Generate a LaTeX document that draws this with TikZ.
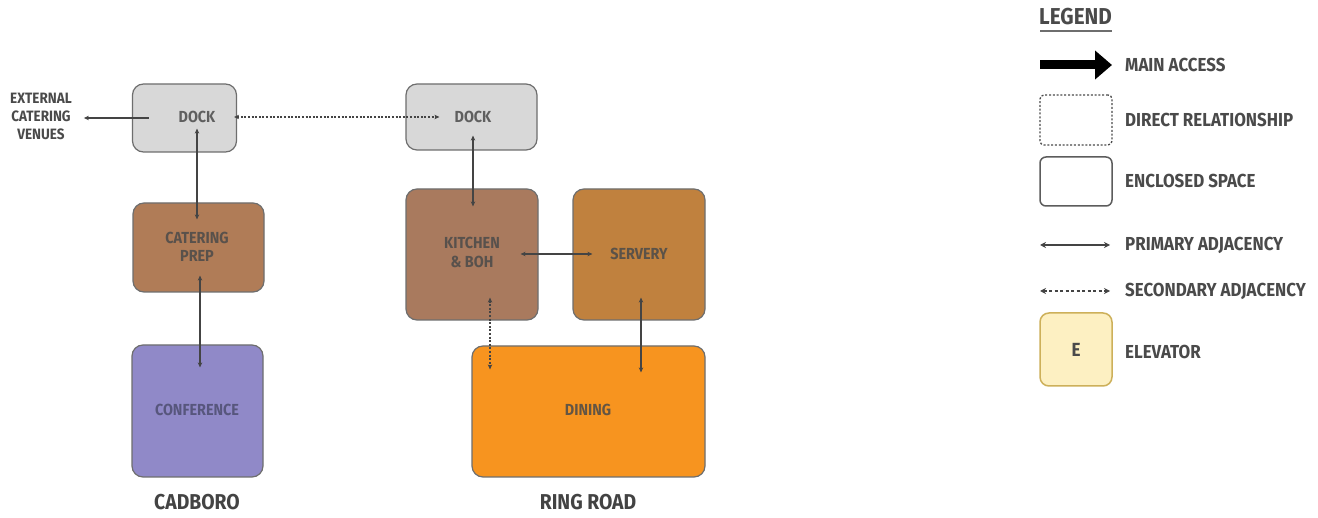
\documentclass[tikz,border=0pt]{standalone}
\usepackage{fontspec}
\setmainfont{Fira Sans}[FakeStretch=0.9]
\usetikzlibrary{arrows.meta,calc}
\definecolor{dockfill}{HTML}{D8D8D8}
\definecolor{prepfill}{HTML}{B07C57}
\definecolor{kitchfill}{HTML}{A97A5E}
\definecolor{servfill}{HTML}{C0813E}
\definecolor{dinefill}{HTML}{F7941F}
\definecolor{conffill}{HTML}{9089C8}
\definecolor{elevfill}{HTML}{FDF0C2}
\definecolor{elevline}{HTML}{CDB05A}
\definecolor{edge}{HTML}{6E6E6E}
\definecolor{ink}{HTML}{4A4A4A}
\definecolor{confink}{HTML}{4E4E70}
\definecolor{link}{HTML}{444444}
\tikzset{
  room/.style={draw=edge, line width=1.2pt, rounded corners=11pt, inner sep=0pt},
  roomtext/.style={font=\bfseries\fontsize{16}{18.5}\selectfont, align=center, text=ink, text opacity=0.85, inner sep=0pt},
  tag/.style={font=\bfseries\fontsize{18.8}{21}\selectfont, text=ink, anchor=west, inner sep=0pt},
  site/.style={font=\bfseries\fontsize{21.5}{24}\selectfont, text=ink!90!black, inner sep=0pt},
  primary/.style={draw=link, line width=1.4pt, {Stealth[length=5pt,width=4.5pt]}-{Stealth[length=5pt,width=4.5pt]}},
  secondary/.style={primary, dash pattern=on 2pt off 1.6pt},
  keyprimary/.style={draw=link, line width=2pt, {Stealth[length=6pt,width=6pt]}-{Stealth[length=6pt,width=6pt]}},
  keysecondary/.style={keyprimary, line width=1.6pt, dash pattern=on 3pt off 2.5pt},
}
\begin{document}
\begin{tikzpicture}[x=1pt,y=-1pt]
\useasboundingbox (0,0) rectangle (1318,518);
\fill[white] (0,0) rectangle (1318,518);

% rooms
\node[room, fill=dockfill, minimum width=104pt, minimum height=68pt] (ldock) at (184.5,118) {};
\node[room, fill=dockfill, minimum width=131pt, minimum height=66pt] (rdock) at (471.5,117) {};
\node[room, fill=prepfill, minimum width=131pt, minimum height=89pt] (prep) at (198.5,247.5) {};
\node[room, fill=conffill, minimum width=131pt, minimum height=132pt] (conf) at (197.5,411) {};
\node[room, fill=kitchfill, minimum width=132pt, minimum height=131pt] (kitch) at (472,254.5) {};
\node[room, fill=servfill, minimum width=132pt, minimum height=131pt] (serv) at (639,254.5) {};
\node[room, fill=dinefill, minimum width=233pt, minimum height=131pt] (dine) at (588.5,411.5) {};

% room labels
\node[roomtext] (ldocklbl) at (197,117) {DOCK};
\node[roomtext] (rdocklbl) at (473,117) {DOCK};
\node[roomtext] (preplbl) at (197,247) {CATERING\\PREP};
\node[roomtext, text=confink] (conflbl) at (197,410) {CONFERENCE};
\node[roomtext] (kitchlbl) at (472,252.5) {KITCHEN\\\& BOH};
\node[roomtext] (servlbl) at (639,254) {SERVERY};
\node[roomtext] (dinelbl) at (588,410) {DINING};

\node[font=\bfseries\fontsize{15}{18}\selectfont, text=ink, align=center, inner sep=0pt] (ext) at (41,116.5) {EXTERNAL\\CATERING\\VENUES};

% site names
\node[site] (cadboro) at (197,502) {CADBORO};
\node[site] (ringroad) at (588,502) {RING ROAD};

% adjacencies
\draw[draw=link, line width=1.4pt, -{Stealth[length=5pt,width=4.5pt]}] ($(ldock.west)+(17,0)$) -- ($(ldock.west)+(-48,0)$);
\draw[secondary] ($(ldock.east)+(-3,-1)$) -- ($(rdock.west)+(34,0)$);
\draw[primary] ($(ldock.south)+(12.5,-24)$) -- ($(prep.north)+(-1.5,17)$);
\draw[primary] ($(prep.south)+(1.5,-17)$) -- ($(conf.north)+(2.5,23)$);
\draw[primary] ($(rdock.south)+(1.5,-15)$) -- ($(kitch.north)+(1,18)$);
\draw[primary] ($(kitch.east)+(-18,-0.5)$) -- ($(serv.west)+(20,-0.5)$);
\draw[primary] ($(serv.south)+(2,-23)$) -- ($(dine.north)+(52.5,27)$);
\draw[secondary] ($(kitch.south)+(18,-23)$) -- ($(dine.north)+(-98.5,24)$);

% legend
\node[font=\bfseries\fontsize{23}{25}\selectfont, text=ink, anchor=west, inner sep=0pt] (legend) at (1039,17) {LEGEND};
\draw[edge, line width=1.5pt] (1040,31) -- (1112,31);

\coordinate (mainA) at (1040,65);
\coordinate (mainB) at (1112,65);
\draw[black, line width=9pt, -{Triangle[length=17pt,width=28pt]}] (mainA) -- (mainB);
\node[tag] (maintxt) at (1125,65) {MAIN ACCESS};

\node[draw=ink, line width=1.3pt, dash pattern=on 2pt off 1.8pt, rounded corners=4pt, minimum width=72pt, minimum height=50pt, inner sep=0pt] (dirkey) at (1076,120) {};
\node[tag] (dirtxt) at (1125,120) {DIRECT RELATIONSHIP};

\node[draw=ink!90, line width=1.5pt, rounded corners=6pt, minimum width=72pt, minimum height=49pt, inner sep=0pt] (enckey) at (1076,181.5) {};
\node[tag] (enctxt) at (1125,181) {ENCLOSED SPACE};

\coordinate (primA) at (1040,245);
\coordinate (primB) at (1110,245);
\draw[keyprimary] (primA) -- (primB);
\node[tag] (primtxt) at (1125,245) {PRIMARY ADJACENCY};

\coordinate (secA) at (1040,291);
\coordinate (secB) at (1110,291);
\draw[keysecondary] (secA) -- (secB);
\node[tag] (sectxt) at (1125,291) {SECONDARY ADJACENCY};

\node[draw=elevline, fill=elevfill, line width=1.5pt, rounded corners=9pt, minimum width=72pt, minimum height=73pt, inner sep=0pt, font=\bfseries\fontsize{19}{21}\selectfont, text=ink] (elevkey) at (1076,349.5) {E};
\node[tag] (elevtxt) at (1125,352) {ELEVATOR};
\end{tikzpicture}
\end{document}
